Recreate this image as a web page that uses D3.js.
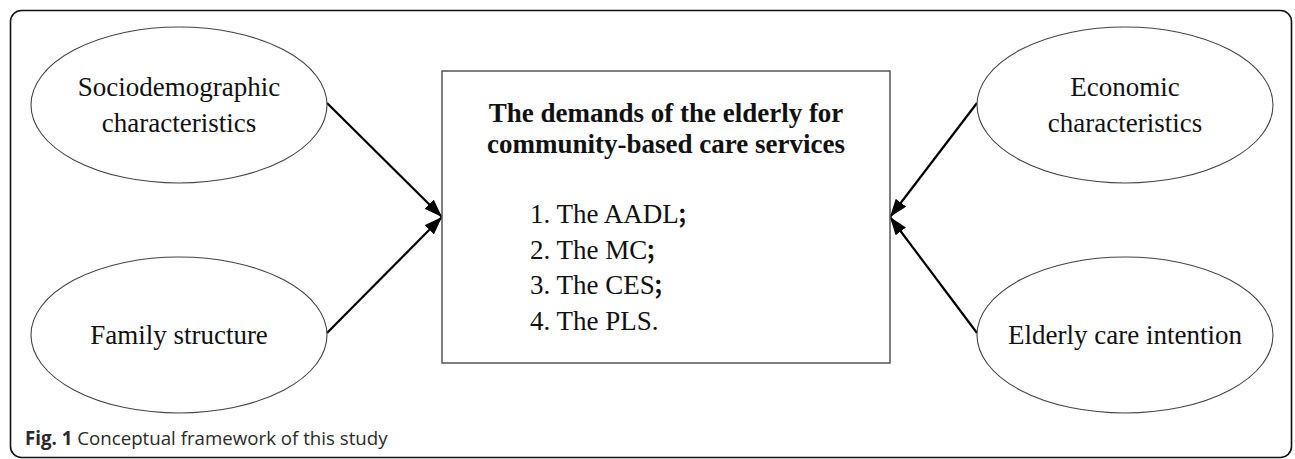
<!DOCTYPE html>
<html>
<head>
<meta charset="utf-8">
<script src="https://cdn.jsdelivr.net/npm/d3@7"></script>
<style>
  body { margin: 0; background: #fff; }
  svg { display: block; }
</style>
</head>
<body>
<div id="graph"></div>
<script>
const WIDTH = 1295, HEIGHT = 459;

// diagram content
const factorLabels = [
    ["Sociodemographic", "characteristics"],
    ["Family structure"],
    ["Economic", "characteristics"],
    ["Elderly care intention"]
];
const factorSides = ["left", "left", "right", "right"];
const factorRows = ["top", "bottom", "top", "bottom"];
const outcomeTitle = ["The demands of the elderly for", "community-based care services"];
const outcomeItems = ["1. The AADL", "2. The MC", "3. The CES", "4. The PLS."];
const outcomeItemEnds = ["；", "；", "；", ""];
const captionBold = "Fig. 1";
const captionText = " Conceptual framework of this study";

let svg = d3.select("#graph")
    .append("svg")
    .attr("width", WIDTH)
    .attr("height", HEIGHT);

let x = d3.scaleOrdinal().domain(["left", "right"]).range([179, 1125]);
let y = d3.scalePoint().domain(["top", "bottom"]).range([105, 335]);

const rx = 148, ry = 78;
const box = {x0: 442, x1: 890, y0: 71, y1: 363};
const tipY = 217;

// outer frame
svg.append("rect")
    .attr("x", 10.5).attr("y", 10.5)
    .attr("width", 1281).attr("height", 447)
    .attr("rx", 11)
    .attr("fill", "none")
    .attr("stroke", "#111")
    .attr("stroke-width", 1.6);

let defs = svg.append("defs");
defs.append("marker")
    .attr("id", "head")
    .attr("viewBox", "0 0 18 13")
    .attr("refX", 18).attr("refY", 6.5)
    .attr("markerWidth", 18).attr("markerHeight", 13)
    .attr("markerUnits", "userSpaceOnUse")
    .attr("orient", "auto")
    .append("path")
    .attr("d", "M0,0 L18,6.5 L0,13 Z")
    .attr("fill", "#000");

let factors = factorLabels.map((lines, i) => ({
    lines: lines,
    side: factorSides[i],
    row: factorRows[i]
}));

// arrows
svg.selectAll("line.arrow")
    .data(factors)
    .enter().append("line")
    .attr("class", "arrow")
    .attr("x1", d => x(d.side) + (d.side === "left" ? rx : -rx))
    .attr("y1", d => y(d.row) - 2)
    .attr("x2", d => d.side === "left" ? box.x0 : box.x1)
    .attr("y2", tipY)
    .attr("stroke", "#000")
    .attr("stroke-width", 2.2)
    .attr("marker-end", "url(#head)");

// ellipses
let nodes = svg.selectAll("g.factor")
    .data(factors)
    .enter().append("g")
    .attr("class", "factor")
    .attr("transform", d => `translate(${x(d.side)}, ${y(d.row)})`);

nodes.append("ellipse")
    .attr("rx", rx).attr("ry", ry)
    .attr("fill", "#fff")
    .attr("stroke", "#444")
    .attr("stroke-width", 1.1);

nodes.each(function(d) {
    let g = d3.select(this);
    let n = d.lines.length;
    d.lines.forEach((t, j) => {
        g.append("text")
            .attr("x", 0)
            .attr("y", (j - (n - 1) / 2) * 36 + 9)
            .attr("text-anchor", "middle")
            .style("font-family", "'Liberation Serif', 'Times New Roman', serif")
            .style("font-size", "27px")
            .attr("fill", "#111")
            .text(t);
    });
});

// center box
svg.append("rect")
    .attr("x", box.x0).attr("y", box.y0)
    .attr("width", box.x1 - box.x0).attr("height", box.y1 - box.y0)
    .attr("fill", "#fff")
    .attr("stroke", "#555")
    .attr("stroke-width", 1.5);

svg.selectAll("text.title")
    .data(outcomeTitle)
    .enter().append("text")
    .attr("class", "title")
    .attr("x", (box.x0 + box.x1) / 2)
    .attr("y", (d, i) => 122 + i * 31)
    .attr("text-anchor", "middle")
    .style("font-family", "'Liberation Serif', 'Times New Roman', serif")
    .style("font-size", "27px")
    .style("font-weight", "bold")
    .attr("fill", "#111")
    .text(d => d);

let items = svg.selectAll("text.item")
    .data(outcomeItems)
    .enter().append("text")
    .attr("class", "item")
    .attr("x", 530)
    .attr("y", (d, i) => 223 + i * 35.5)
    .style("font-family", "'Liberation Serif', 'Times New Roman', serif")
    .style("font-size", "27px")
    .attr("fill", "#111");

items.append("tspan").text(d => d);
items.append("tspan")
    .attr("dx", -2)
    .style("font-family", "'Noto Sans CJK SC', sans-serif")
    .style("font-weight", "bold")
    .style("font-size", "22px")
    .text((d, i) => outcomeItemEnds[i]);

// caption
let caption = svg.append("text")
    .attr("x", 25)
    .attr("y", 445)
    .style("font-family", "'Open Sans', sans-serif")
    .style("font-size", "18.7px")
    .attr("fill", "#2a2a2a");
caption.append("tspan").style("font-weight", "bold").text(captionBold);
caption.append("tspan").text(captionText);
</script>
</body>
</html>
